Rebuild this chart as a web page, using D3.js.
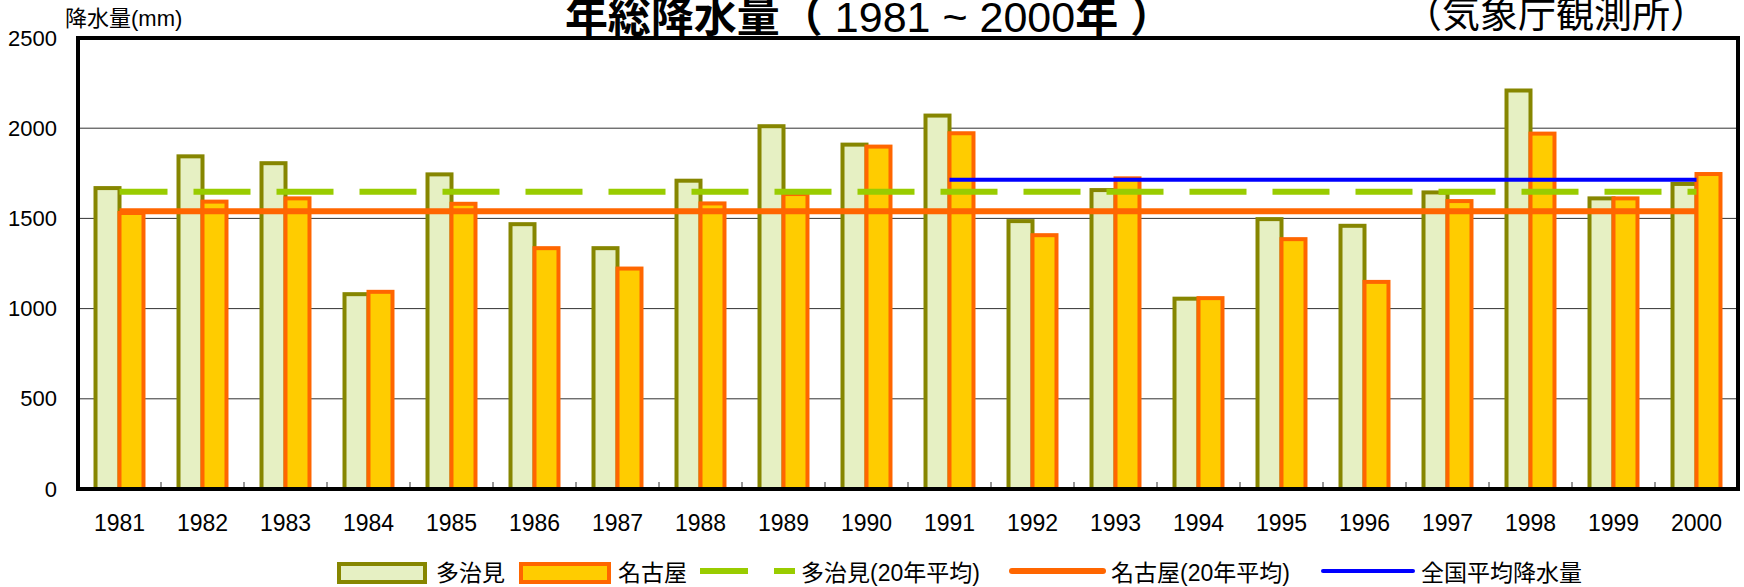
<!DOCTYPE html>
<head>
  <meta charset="utf-8">
  <script src="https://d3js.org/d3.v7.min.js"></script>
  <style>
    body { margin:0; background:#fff; }
    text { font-family: "Liberation Sans", Arial, "Noto Sans CJK JP", sans-serif; fill:#000; }
  </style>
</head>

<body>
  <script>
    // data (mm)
    var years = ['1981','1982','1983','1984','1985','1986','1987','1988','1989','1990',
                 '1991','1992','1993','1994','1995','1996','1997','1998','1999','2000'];
    var tajimi = [1668, 1844, 1806, 1080, 1744, 1468, 1335, 1709, 2011, 1909,
                  2070, 1485, 1657, 1055, 1496, 1459, 1644, 2209, 1611, 1691];
    var nagoya = [1530, 1593, 1611, 1093, 1581, 1335, 1222, 1583, 1635, 1898,
                  1972, 1407, 1722, 1058, 1385, 1148, 1596, 1970, 1611, 1746];
    var tajimiAvg = 1648;
    var nagoyaAvg = 1540;
    var nationalAvg = 1714;
    var nationalFrom = '1991';
    var yTicks = [0, 500, 1000, 1500, 2000, 2500];
    var gridTicks = [500, 1000, 1500, 2000];

    var width = 1744;
    var height = 587;

    var svg = d3.select('body').append('svg')
      .attr('width', width)
      .attr('height', height);

    var x = d3.scaleBand()
      .domain(years)
      .range([78, 1738])
      .padding(0);

    var x1 = d3.scaleBand()
      .domain(['tajimi', 'nagoya'])
      .range([0, x.bandwidth()])
      .paddingInner(0)
      .paddingOuter(0.73);

    var y = d3.scaleLinear()
      .domain([0, 2500])
      .range([489, 38]);

    var mid = function(d) { return x(d) + x.bandwidth() / 2; };

    // gridlines
    svg.selectAll('.grid')
      .data(gridTicks)
      .enter().append('line')
      .attr('class', 'grid')
      .attr('x1', 78).attr('x2', 1738)
      .attr('y1', function(d) { return y(d); })
      .attr('y2', function(d) { return y(d); })
      .style('stroke', '#333')
      .style('stroke-width', 1);

    // y labels
    var yAxis = svg.append('g')
      .attr('transform', 'translate(78,0)')
      .call(d3.axisLeft(y).tickValues(yTicks).tickFormat(d3.format('d')).tickSize(0).tickPadding(21));
    yAxis.select('.domain').remove();
    yAxis.attr('font-size', null).attr('font-family', null);
    yAxis.selectAll('text').style('font-size', '22px');

    // x labels
    var xAxis = svg.append('g')
      .attr('transform', 'translate(0,489)')
      .call(d3.axisBottom(x).tickSize(0).tickPadding(26));
    xAxis.select('.domain').remove();
    xAxis.attr('font-size', null).attr('font-family', null);
    xAxis.selectAll('text').style('font-size', '23px');

    // small ticks between years
    svg.selectAll('.xtick')
      .data(years.slice(1))
      .enter().append('line')
      .attr('class', 'xtick')
      .attr('x1', function(d) { return x(d); })
      .attr('x2', function(d) { return x(d); })
      .attr('y1', 489).attr('y2', 482)
      .style('stroke', '#333')
      .style('stroke-width', 1);

    // bars
    svg.selectAll('.tajimi')
      .data(tajimi)
      .enter().append('rect')
      .attr('class', 'tajimi')
      .attr('x', function(d, i) { return x(years[i]) + x1('tajimi'); })
      .attr('y', function(d) { return y(d); })
      .attr('width', x1.bandwidth())
      .attr('height', function(d) { return y(0) - y(d); })
      .style('fill', '#e6f0c3')
      .style('stroke', '#868600')
      .style('stroke-width', 4);

    svg.selectAll('.nagoya')
      .data(nagoya)
      .enter().append('rect')
      .attr('class', 'nagoya')
      .attr('x', function(d, i) { return x(years[i]) + x1('nagoya'); })
      .attr('y', function(d) { return y(d); })
      .attr('width', x1.bandwidth())
      .attr('height', function(d) { return y(0) - y(d); })
      .style('fill', '#ffcc00')
      .style('stroke', '#ff6600')
      .style('stroke-width', 4);

    // average lines
    svg.append('line')
      .attr('x1', mid(years[0])).attr('x2', mid(years[years.length - 1]))
      .attr('y1', y(tajimiAvg)).attr('y2', y(tajimiAvg))
      .style('stroke', '#99cc00')
      .style('stroke-width', 6)
      .style('stroke-dasharray', '57 26')
      .style('stroke-dashoffset', 9);

    svg.append('line')
      .attr('x1', mid(years[0])).attr('x2', mid(years[years.length - 1]))
      .attr('y1', y(nagoyaAvg)).attr('y2', y(nagoyaAvg))
      .style('stroke', '#ff6600')
      .style('stroke-width', 6);

    svg.append('line')
      .attr('x1', mid(nationalFrom)).attr('x2', mid(years[years.length - 1]))
      .attr('y1', y(nationalAvg)).attr('y2', y(nationalAvg))
      .style('stroke', '#0000ff')
      .style('stroke-width', 4);

    // frame
    svg.append('rect')
      .attr('x', 78).attr('y', 38)
      .attr('width', 1660).attr('height', 451)
      .style('fill', 'none')
      .style('stroke', '#000')
      .style('stroke-width', 4);

    // titles (top is cut by the edge as in the original)
    var title = svg.append('text')
      .attr('x', 869).attr('y', 32)
      .attr('text-anchor', 'middle')
      .style('font-size', '43px')
      .attr('xml:space', 'preserve');
    title.append('tspan').style('font-weight', 'bold').text('年総降水量（ ');
    title.append('tspan').text('1981 ~ 2000');
    title.append('tspan').style('font-weight', 'bold').text('年 ）');

    svg.append('text')
      .attr('x', 1708).attr('y', 27)
      .attr('text-anchor', 'end')
      .style('font-size', '38px')
      .text('（気象庁観測所）');

    svg.append('text')
      .attr('x', 65).attr('y', 26)
      .style('font-size', '22px')
      .text('降水量(mm)');

    // legend
    var ly = 573;
    svg.append('rect')
      .attr('x', 339).attr('y', ly - 9).attr('width', 86).attr('height', 18)
      .style('fill', '#e6f0c3').style('stroke', '#868600').style('stroke-width', 4);
    svg.append('text').attr('x', 436).attr('y', ly + 8).style('font-size', '23px').text('多治見');

    svg.append('rect')
      .attr('x', 521).attr('y', ly - 9).attr('width', 88).attr('height', 18)
      .style('fill', '#ffcc00').style('stroke', '#ff6600').style('stroke-width', 4);
    svg.append('text').attr('x', 618).attr('y', ly + 8).style('font-size', '23px').text('名古屋');

    svg.append('line')
      .attr('x1', 700).attr('x2', 795).attr('y1', ly - 2).attr('y2', ly - 2)
      .style('stroke', '#99cc00').style('stroke-width', 6)
      .style('stroke-dasharray', '48 26');
    svg.append('text').attr('x', 801).attr('y', ly + 8).style('font-size', '23px').text('多治見(20年平均)');

    svg.append('line')
      .attr('x1', 1012).attr('x2', 1103).attr('y1', ly - 2).attr('y2', ly - 2)
      .style('stroke', '#ff6600').style('stroke-width', 6)
      .style('stroke-linecap', 'round');
    svg.append('text').attr('x', 1111).attr('y', ly + 8).style('font-size', '23px').text('名古屋(20年平均)');

    svg.append('line')
      .attr('x1', 1323).attr('x2', 1413).attr('y1', ly - 2).attr('y2', ly - 2)
      .style('stroke', '#0000ff').style('stroke-width', 4)
      .style('stroke-linecap', 'round');
    svg.append('text').attr('x', 1421).attr('y', ly + 8).style('font-size', '23px').text('全国平均降水量');
  </script>
</body>
